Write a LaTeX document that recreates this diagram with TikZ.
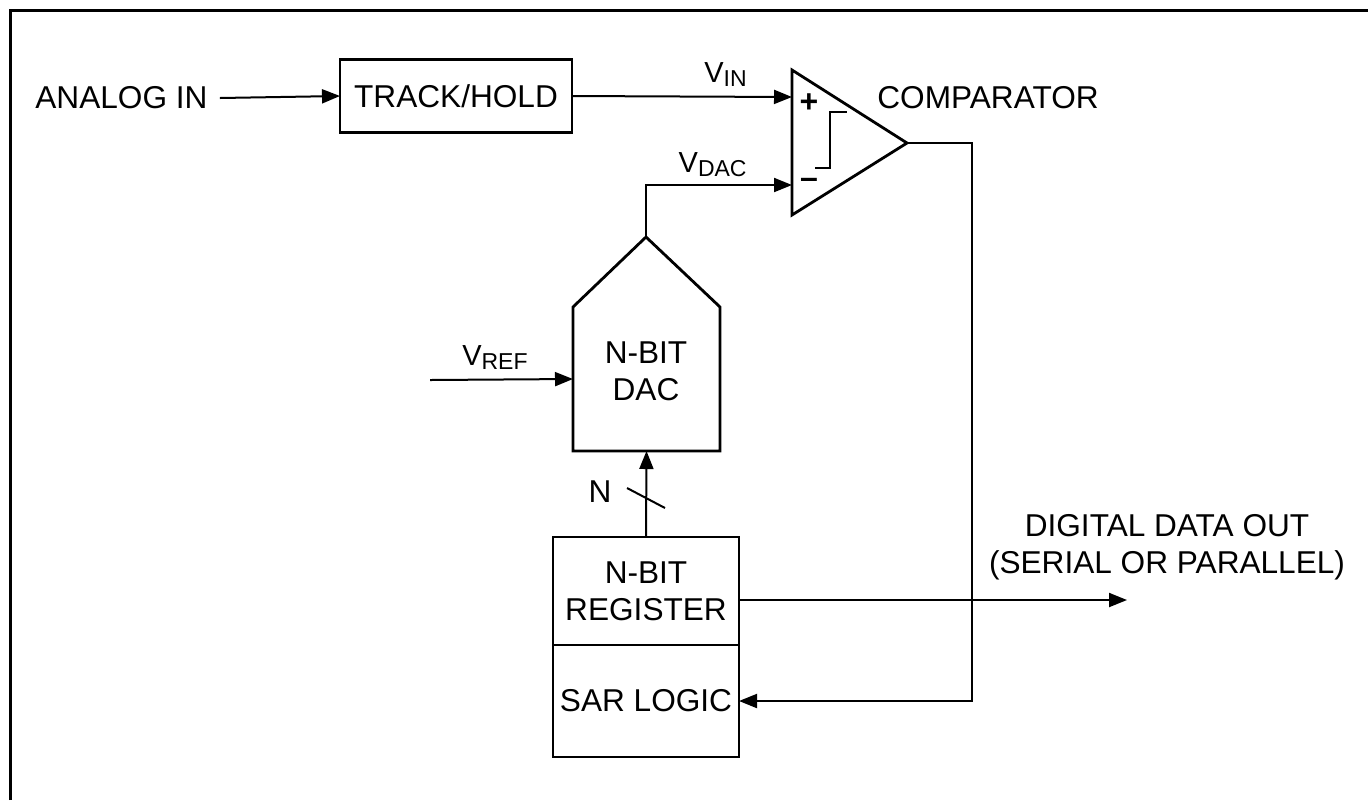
\documentclass[tikz,border=0pt]{standalone}
\usepackage{fontspec}
\setmainfont{Liberation Sans}
\usetikzlibrary{arrows.meta}

\newcommand{\sigsub}[2]{#1\lower2.2pt\hbox{\fontsize{11.5}{11.5}\selectfont #2}}

\begin{document}
\begin{tikzpicture}[x = 0.5pt, y = -0.5pt, font = \fontsize{15.8}{18.5}\selectfont]
	\tikzstyle{outlineStyle} = [line width = 1.4pt]
	\tikzstyle{boxStyle} = [draw, outlineStyle, inner sep = 0pt, outer sep = 0pt, align = center]
	\tikzstyle{wireStyle} = [line width = 1pt]
	\tikzstyle{arrowStyle} = [wireStyle, -{Triangle[length = 9pt, width = 7pt]}]
	\tikzstyle{textStyle} = [inner sep = 0pt, align = center]
	\tikzstyle{signalStyle} = [inner sep = 0pt, font = \fontsize{14.5}{14.5}\selectfont]
	\tikzstyle{signStyle} = [inner sep = 0pt, font = \fontsize{16}{16}\selectfont\bfseries]
	\useasboundingbox (0,0) rectangle (1368,800);
	\draw[line width = 1.5pt] (10,800) -- (10,10) -- (1368,10);
	% blocks
	\node[textStyle, anchor = west] (analog) at (35,98) {ANALOG IN};
	\node[boxStyle, minimum width = 116pt, minimum height = 36.5pt] (th) at (456,96) {TRACK/HOLD};
	\node[textStyle, anchor = west] (cmpLabel) at (877,98) {COMPARATOR};
	\node[inner sep = 0pt, outer sep = 0pt, minimum width = 73.5pt, minimum height = 72pt] (dac) at (646.5,379) {};
	\node[textStyle] (dacText) at (646,371.5) {N-BIT\\DAC};
	\node[boxStyle, minimum width = 93pt, minimum height = 54pt] (reg) at (646,591) {N-BIT\\REGISTER};
	\node[boxStyle, minimum width = 93pt, minimum height = 56pt, anchor = north] (sar) at (reg.south) {SAR LOGIC};
	\node[textStyle] (dout) at (1167,547) {DIGITAL DATA OUT\\(SERIAL OR PARALLEL)};
	% signal names
	\node[signalStyle, anchor = base east] (vin) at (747,82) {\sigsub{V}{IN}};
	\node[signalStyle, anchor = base east] (vdac) at (747,172) {\sigsub{V}{DAC}};
	\node[signalStyle, anchor = base east] (vref) at (528,365) {\sigsub{V}{REF}};
	\node[textStyle] (nbus) at (600,492) {N};
	% comparator
	\coordinate (cmpP) at (792,97);
	\coordinate (cmpM) at (792,185);
	\coordinate (cmpOut) at (907,143);
	\draw[outlineStyle] (792,70) -- (cmpOut) -- (792,215) -- cycle;
	\node[signStyle] (plus) at (809,103) {+};
	\node[signStyle] (minus) at (809,183) {--};
	\draw[wireStyle] (815,168) -- (830,168) -- (830,112) -- (847,112);
	% dac outline
	\coordinate (dacApex) at (646,237);
	\draw[outlineStyle] (dac.north west) -- (dacApex) -- (dac.north east) -- (dac.south east) -- (dac.south west) -- cycle;
	% connectors
	\coordinate (fbTurn) at (972,143);
	\coordinate (dataOut) at (1127,600);
	\coordinate (vrefIn) at (430,380);
	\draw[arrowStyle] ([xshift = 6pt]analog.east) -- (th.west);
	\draw[arrowStyle] (th.east) -- (cmpP);
	\draw[arrowStyle] (dacApex) |- (cmpM);
	\draw[arrowStyle] (cmpOut) -- (fbTurn) |- (sar.east);
	\draw[arrowStyle] (reg.east |- dataOut) -- (dataOut);
	\draw[arrowStyle] (vrefIn) -- (dac.west);
	\draw[arrowStyle] (reg.north) -- (dac.south);
	\draw[wireStyle] (627,488) -- (665,508);
\end{tikzpicture}
\end{document}
